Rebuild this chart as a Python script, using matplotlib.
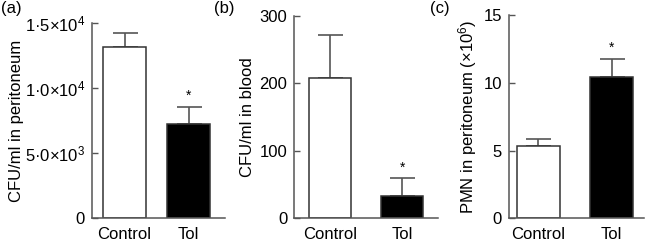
import matplotlib
matplotlib.use('Agg')
from matplotlib import pyplot as plt

plt.rcParams['font.family'] = ['Liberation Sans', 'DejaVu Sans']
plt.rcParams['mathtext.fontset'] = 'custom'
plt.rcParams['mathtext.rm'] = 'Liberation Sans'
plt.rcParams['mathtext.it'] = 'Liberation Sans'

groups = ['Control', 'Tol']

cfu_perit = [13130, 7200]
cfu_perit_err = [1120, 1360]
cfu_perit_ticks = [0, 5000, 10000, 15000]
cfu_perit_labels = ['0', '5·0×10$^3$', '1·0×10$^4$', '1·5×10$^4$']

cfu_blood = [208, 33]
cfu_blood_err = [64, 26]
cfu_blood_ticks = [0, 100, 200, 300]

pmn = [5.36, 10.45]
pmn_err = [0.47, 1.3]
pmn_ticks = [0, 5, 10, 15]

spine_col = '#555555'
fs = 12
W = 646


def panel(rect, xlim, width, vals, errs, ticks, labels, ylim, ylabel, tag, tag_x, ylab_px):
    ax = fig.add_axes(rect)
    x = [0, 1]
    ax.bar(x, vals, width=width, color=['white', 'black'], edgecolor='#333333',
           linewidth=1.1, zorder=2)
    ax.errorbar(x, vals, yerr=[[0, 0], errs], fmt='none', ecolor='#555555',
                elinewidth=1.2, capsize=9, capthick=1.2, zorder=1)
    ax.annotate('*', (x[1], vals[1] + errs[1]), xytext=(0, 3), textcoords='offset points',
                ha='center', va='bottom', fontsize=10)
    ax.set_xlim(*xlim)
    ax.set_ylim(*ylim)
    ax.set_xticks(x)
    ax.set_xticklabels(groups, fontsize=fs)
    ax.set_yticks(ticks)
    ax.set_yticklabels(labels, fontsize=fs)
    ax.tick_params(axis='x', length=0, pad=6)
    ax.tick_params(axis='y', direction='in', length=4, width=1, color=spine_col, pad=5)
    for s in ['top', 'right']:
        ax.spines[s].set_visible(False)
    for s in ['left', 'bottom']:
        ax.spines[s].set_color(spine_col)
        ax.spines[s].set_linewidth(1.1)
    ax.set_ylabel(ylabel, fontsize=fs, va='center')
    ax.yaxis.set_label_coords((ylab_px - rect[0] * W) / (rect[2] * W), 0.5)
    fig.text(tag_x, 0.995, tag, fontsize=fs, va='top', ha='left')
    return ax


fig = plt.figure(figsize=(6.46, 2.42), dpi=100)

panel([0.1424, 0.098, 0.206, 0.808], (-0.51, 1.57), 0.67, cfu_perit, cfu_perit_err,
      cfu_perit_ticks, cfu_perit_labels, (0, 15000), 'CFU/ml in peritoneum', '(a)', 0.002, 17)
panel([0.4556, 0.098, 0.223, 0.837], (-0.5, 1.5), 0.58, cfu_blood, cfu_blood_err,
      cfu_blood_ticks, [str(t) for t in cfu_blood_ticks], (0, 300), 'CFU/ml in blood', '(b)', 0.332, 247)
panel([0.788, 0.098, 0.209, 0.84], (-0.4, 1.44), 0.58, pmn, pmn_err,
      pmn_ticks, [str(t) for t in pmn_ticks], (0, 15), 'PMN in peritoneum (×10$^6$)', '(c)', 0.665, 468)

fig.savefig('out.png', dpi=100)
